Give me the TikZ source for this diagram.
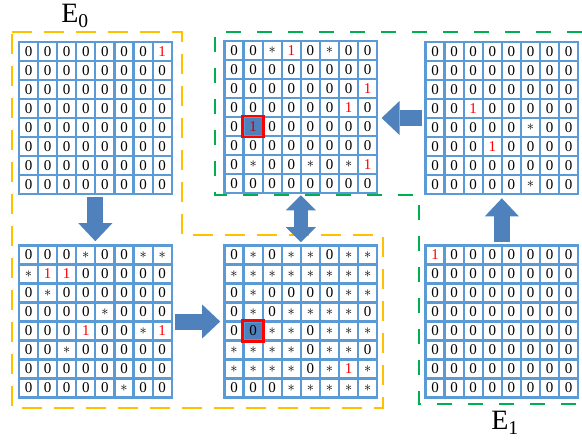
\documentclass[tikz,border=0pt]{standalone}
\usepackage{fontspec}
\setmainfont{Liberation Serif}
\usetikzlibrary{positioning,arrows.meta,fit}

\definecolor{gridblue}{RGB}{91,155,213}
\definecolor{arrowblue}{RGB}{79,129,189}
\definecolor{hlblue}{RGB}{79,129,189}
\definecolor{setyellow}{RGB}{255,192,0}
\definecolor{setgreen}{RGB}{0,176,80}

% one 8x8 grid: name, x, y of first cell, rows
\newcommand{\cellgrid}[4]{%
  \foreach \row [count=\i] in {#4} {
    \foreach \c [count=\j] in \row {
      \node (#1-\i-\j) at ({#2+(\j-1)*19.1},{#3+(\i-1)*19}) [cell, v\c];
    }
  }
  \node[fit=(#1-1-1)(#1-8-8), inner sep=0pt] (#1) {};
}

\begin{document}
\begin{tikzpicture}[x=1pt, y=-1pt,
    % Cell styles
    cell/.style={draw=gridblue, line width=2.2pt, minimum width=19.1pt, minimum height=19pt, inner sep=0pt, font=\fontsize{15}{15}\selectfont},
    v0/.style={node contents=0},
    v1/.style={text=red, node contents=1},
    vs/.style={node contents={$\ast$}},
    va/.style={fill=hlblue, node contents=0},
    vb/.style={fill=hlblue, text=red!80!black, node contents=1},
    hlframe/.style={draw=red, line width=2.6pt},
    % Arrow styles
    blockarrow/.style={draw=arrowblue, line width=16pt, shorten <=2pt, shorten >=3pt, -{Triangle[width=34pt, length=18pt, line width=0pt]}},
    dblarrow/.style={draw=arrowblue, line width=14pt, shorten <=1pt, shorten >=2pt, {Triangle[width=30pt, length=15pt, line width=0pt]}-{Triangle[width=30pt, length=15pt, line width=0pt]}},
    % Set frames and labels
    e0frame/.style={draw=setyellow, line width=2.5pt, dash pattern=on 20pt off 12pt},
    e1frame/.style={draw=setgreen, line width=2.5pt, dash pattern=on 15pt off 16pt},
    setlabel/.style={font=\fontsize{28}{30}\selectfont, inner sep=0pt}
]
\useasboundingbox (0,0) rectangle (582,442);

% Dashed set frames
\draw[e0frame] (12,32) -- (182,32) -- (182,235) -- (383,235) -- (383,408) -- (12,408) -- cycle;
\draw[e1frame] (582,32) -- (215,32) -- (215,195) -- (419,195) -- (419,404) -- (582,404);

% Set labels
\node[setlabel] (e0) at (75,16) {E\textsubscript{0}};
\node[setlabel] (e1) at (505,423) {E\textsubscript{1}};

% Top-left grid
\cellgrid{tl}{28.5}{51.5}{{0,0,0,0,0,0,0,1},{0,0,0,0,0,0,0,0},{0,0,0,0,0,0,0,0},{0,0,0,0,0,0,0,0},
  {0,0,0,0,0,0,0,0},{0,0,0,0,0,0,0,0},{0,0,0,0,0,0,0,0},{0,0,0,0,0,0,0,0}}

% Bottom-left grid
\cellgrid{bl}{28.5}{255}{{0,0,0,s,0,0,s,s},{s,1,1,0,0,0,0,0},{0,s,0,0,0,0,0,0},{0,0,0,0,s,0,0,0},
  {0,0,0,1,0,0,s,1},{0,0,s,0,0,0,0,0},{0,0,0,0,0,0,0,0},{0,0,0,0,0,s,0,0}}

% Bottom-middle grid
\cellgrid{bm}{234}{255}{{0,s,0,s,s,0,s,s},{s,s,s,s,s,s,s,s},{0,s,0,0,0,0,s,s},{0,s,0,s,s,s,s,0},
  {0,a,s,s,0,s,s,s},{s,s,s,s,0,s,s,0},{s,s,s,s,0,s,1,s},{0,0,0,s,s,s,s,s}}

% Top-middle grid
\cellgrid{tm}{234}{50.5}{{0,0,s,1,0,s,0,0},{0,0,0,0,0,0,0,0},{0,0,0,0,0,0,0,1},{0,0,0,0,0,0,1,0},
  {0,b,0,0,0,0,0,0},{0,0,0,0,0,0,0,0},{0,s,0,0,s,0,s,1},{0,0,0,0,0,0,0,0}}

% Top-right grid
\cellgrid{tr}{435}{51.5}{{0,0,0,0,0,0,0,0},{0,0,0,0,0,0,0,0},{0,0,0,0,0,0,0,0},{0,0,1,0,0,0,0,0},
  {0,0,0,0,0,s,0,0},{0,0,0,1,0,0,0,0},{0,0,0,0,0,0,0,0},{0,0,0,0,0,s,0,0}}

% Bottom-right grid
\cellgrid{br}{435}{255}{{1,0,0,0,0,0,0,0},{0,0,0,0,0,0,0,0},{0,0,0,0,0,0,0,0},{0,0,0,0,0,0,0,0},
  {0,0,0,0,0,0,0,0},{0,0,0,0,0,0,0,0},{0,0,0,0,0,0,0,0},{0,0,0,0,0,0,0,0}}

% Highlighted cells
\draw[hlframe] (bm-5-2.north west) rectangle (bm-5-2.south east);
\draw[hlframe] (tm-5-2.north west) rectangle (tm-5-2.south east);

% Block arrows between grids
\draw[blockarrow] (tl) -- (bl);
\draw[blockarrow] (bl) -- (bm);
\draw[dblarrow] (tm) -- (bm);
\draw[blockarrow] (tr.west) -- (tr.west -| tm.east);
\draw[blockarrow] (br) -- (tr);

\end{tikzpicture}
\end{document}
